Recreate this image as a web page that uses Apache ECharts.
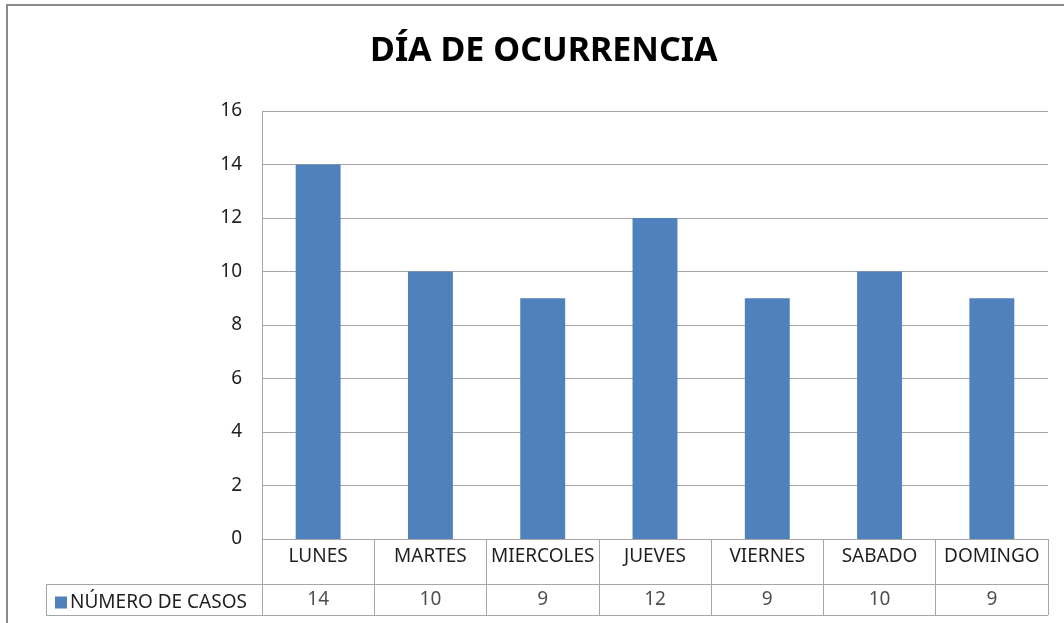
<!DOCTYPE html>
<html>
<head>
<meta charset="utf-8">
<script src="https://cdn.jsdelivr.net/npm/echarts@6/dist/echarts.min.js"></script>
<style>html,body{margin:0;padding:0;background:#fff;}#c{width:1064px;height:623px;}</style>
</head>
<body>
<div id="c"></div>
<script>
const titleText = 'DÍA DE OCURRENCIA';
const seriesName = 'NÚMERO DE CASOS';
const days = ['LUNES', 'MARTES', 'MIERCOLES', 'JUEVES', 'VIERNES', 'SABADO', 'DOMINGO'];
const cases = [14, 10, 9, 12, 9, 10, 9];
const yTicks = [0, 2, 4, 6, 8, 10, 12, 14, 16];

const FONT = '"Noto Sans", "Open Sans", sans-serif';
const TXT = '#1f1f1f';
const LINE = '#a6a6a6';
const BAR = '#4F81BD';

const chart = echarts.init(document.getElementById('c'), null, {renderer: 'canvas'});
chart.setOption({
  animation: false,
  backgroundColor: '#fff',
  textStyle: {fontFamily: FONT},
  title: {
    text: titleText, left: 365, top: 29,
    textStyle: {fontFamily: FONT, fontWeight: 'bold', fontSize: 34, color: '#000'}
  },
  legend: {
    data: [seriesName], left: 50, top: 588, icon: 'rect', itemWidth: 12, itemHeight: 12, itemGap: 4,
    textStyle: {fontFamily: FONT, fontSize: 19, color: TXT, padding: [0, 0, 0, -2]}
  },
  graphic: [
    {type: 'rect', shape: {x: 7, y: 5, width: 1080, height: 640}, style: {fill: 'none', stroke: '#8a8a8a', lineWidth: 2}, silent: true},
    {type: 'polyline', shape: {points: [[262, 584.5], [46.5, 584.5], [46.5, 615.5], [262, 615.5]]}, style: {fill: 'none', stroke: LINE, lineWidth: 1}, silent: true}
  ],
  grid: [
    {left: 262, top: 111, width: 786, height: 428},
    {left: 262, top: 539, width: 786, height: 45},
    {left: 262, top: 584, width: 786, height: 31}
  ],
  xAxis: [
    {gridIndex: 0, type: 'category', data: days, axisTick: {show: false},
     axisLine: {show: true, lineStyle: {color: LINE}},
     axisLabel: {show: false}},
    {gridIndex: 1, type: 'category', data: days, axisTick: {show: false},
     axisLine: {show: false},
     splitLine: {show: true, interval: 0, lineStyle: {color: LINE}},
     axisLabel: {show: true, interval: 0, margin: -37, fontSize: 19, color: TXT, fontFamily: FONT}},
    {gridIndex: 2, type: 'category', data: days, axisTick: {show: false},
     axisLine: {show: false},
     splitLine: {show: true, interval: 0, lineStyle: {color: LINE}},
     axisLabel: {show: false}}
  ],
  yAxis: [
    {gridIndex: 0, type: 'value', min: yTicks[0], max: yTicks[yTicks.length - 1], interval: 2,
     axisLine: {show: true, lineStyle: {color: LINE}}, axisTick: {show: false},
     splitLine: {show: true, lineStyle: {color: LINE}},
     axisLabel: {fontSize: 19, color: TXT, margin: 20, fontFamily: FONT}},
    {gridIndex: 1, type: 'value', min: 0, max: 1, interval: 1,
     axisLine: {show: false}, axisTick: {show: false}, axisLabel: {show: false},
     splitLine: {show: true, lineStyle: {color: LINE}}},
    {gridIndex: 2, type: 'value', min: 0, max: 1, interval: 1,
     axisLine: {show: false}, axisTick: {show: false}, axisLabel: {show: false},
     splitLine: {show: true, lineStyle: {color: LINE}}}
  ],
  series: [
    {name: seriesName, type: 'bar', xAxisIndex: 0, yAxisIndex: 0, data: cases,
     barCategoryGap: '60%', itemStyle: {color: BAR}},
    {name: 'tabla', type: 'scatter', xAxisIndex: 2, yAxisIndex: 2, symbolSize: 0,
     data: cases.map((v, i) => [i, 0.5]),
     label: {show: true, position: 'inside', fontSize: 19, color: TXT, fontFamily: FONT,
       formatter: p => String(cases[p.dataIndex])}}
  ]
});
</script>
</body>
</html>
